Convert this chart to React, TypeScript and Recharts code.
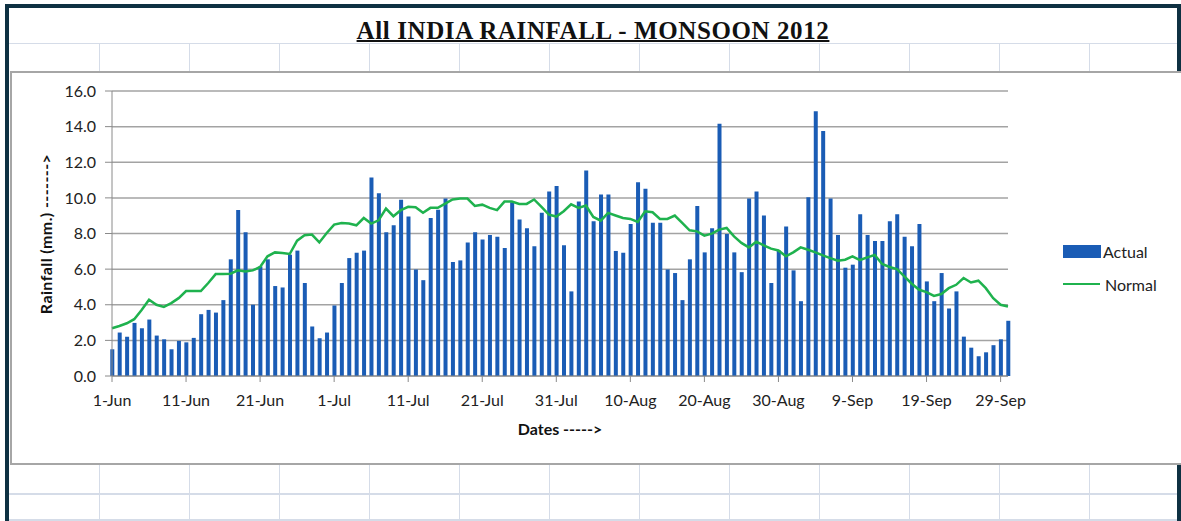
import { ComposedChart, Bar, Line, XAxis, YAxis, CartesianGrid, Legend, Label } from 'recharts';

// daily rainfall, 1-Jun .. 30-Sep 2012 (mm)
const actual = [
  1.5, 2.44, 2.2, 2.98, 2.68, 3.17, 2.27, 2.06, 1.5, 1.97,
  1.89, 2.14, 3.47, 3.71, 3.56, 4.26, 6.55, 9.32, 8.07, 4.0,
  6.15, 6.55, 5.05, 4.97, 6.81, 7.04, 5.22, 2.78, 2.12, 2.44,
  3.96, 5.22, 6.62, 6.92, 7.04, 11.14, 10.26, 8.07, 8.46, 9.89,
  8.95, 5.98, 5.38, 8.87, 9.34, 9.96, 6.4, 6.49, 7.5, 8.07,
  7.67, 7.92, 7.82, 7.19, 9.76, 8.78, 8.29, 7.28, 9.17, 10.36,
  10.66, 7.34, 4.75, 9.79, 11.54, 8.69, 10.19, 10.19, 7.02, 6.92,
  8.54, 10.88, 10.51, 8.61, 8.61, 5.98, 5.78, 4.26, 6.55, 9.55,
  6.94, 8.29, 14.16, 7.97, 6.94, 5.83, 9.96, 10.36, 9.01, 5.22,
  7.05, 8.39, 5.93, 4.2, 10.04, 14.86, 13.75, 9.96, 7.92, 6.08,
  6.25, 9.08, 7.92, 7.58, 7.58, 8.69, 9.08, 7.82, 7.28, 8.54,
  5.31, 4.2, 5.78, 3.79, 4.75, 2.21, 1.59, 1.11, 1.33, 1.73,
  2.06, 3.1,
];

const normal = [
  2.68, 2.81, 2.96, 3.19, 3.71, 4.28, 4.0, 3.88, 4.09, 4.37,
  4.77, 4.77, 4.77, 5.22, 5.72, 5.72, 5.74, 5.93, 5.87, 5.93,
  6.12, 6.72, 6.94, 6.9, 6.85, 7.6, 7.9, 7.94, 7.5, 8.03,
  8.5, 8.59, 8.56, 8.46, 8.87, 8.56, 8.74, 9.4, 8.97, 9.31,
  9.5, 9.47, 9.16, 9.44, 9.44, 9.68, 9.91, 9.96, 9.96, 9.55,
  9.62, 9.44, 9.31, 9.79, 9.79, 9.66, 9.66, 9.91, 9.49, 9.06,
  8.95, 9.25, 9.64, 9.44, 9.57, 8.93, 8.72, 9.16, 9.01, 8.87,
  8.82, 8.65, 9.25, 9.19, 8.82, 8.82, 9.01, 8.59, 8.18, 8.12,
  7.88, 7.99, 8.22, 8.31, 7.84, 7.47, 7.22, 7.54, 7.34, 7.15,
  7.05, 6.72, 6.94, 7.22, 7.09, 6.94, 6.77, 6.62, 6.47, 6.53,
  6.72, 6.51, 6.66, 6.79, 6.29, 6.12, 6.0, 5.59, 5.18, 4.84,
  4.71, 4.5, 4.6, 4.93, 5.12, 5.5, 5.25, 5.35, 4.93, 4.37,
  4.0, 3.9,
];

const tickDays = [0, 10, 20, 30, 40, 50, 60, 70, 80, 90, 100, 110, 120];
const tickLabels = ['1-Jun', '11-Jun', '21-Jun', '1-Jul', '11-Jul', '21-Jul', '31-Jul', '10-Aug', '20-Aug', '30-Aug', '9-Sep', '19-Sep', '29-Sep'];
const yTicks = [0, 2, 4, 6, 8, 10, 12, 14, 16];

const data = actual.map((v, i) => ({ day: i, actual: v, normal: normal[i] }));

const BLUE = '#1a5cb5';
const GREEN = '#1fb24e';
const FONT = 'Lato, sans-serif';
const SHEET = '#d5dce8';

const cols = [99, 189, 279, 369, 459, 549, 639, 729, 819, 909, 999, 1089];

const LegendBox = () => (
  <div style={{ fontFamily: FONT, fontSize: 16, color: '#222' }}>
    <div style={{ display: 'flex', alignItems: 'center', height: 30, marginBottom: 3 }}>
      <span style={{ width: 38, height: 13, background: BLUE, marginRight: 2 }} />
      <span>Actual</span>
    </div>
    <div style={{ display: 'flex', alignItems: 'center', height: 30 }}>
      <span style={{ width: 37, height: 2.5, background: GREEN, marginRight: 5 }} />
      <span>Normal</span>
    </div>
  </div>
);

export default function App() {
  return (
    <div style={{ position: 'absolute', left: 0, top: 0, width: 1181, height: 521, background: '#fff', overflow: 'hidden' }}>
      {/* spreadsheet cells behind the chart */}
      <div style={{ position: 'absolute', left: 9, top: 43, width: 1168, height: 1, background: SHEET }} />
      <div style={{ position: 'absolute', left: 9, top: 493, width: 1168, height: 2, background: SHEET }} />
      <div style={{ position: 'absolute', left: 9, top: 519, width: 1168, height: 2, background: SHEET }} />
      {cols.map((x) => (
        <div key={'t' + x} style={{ position: 'absolute', left: x, top: 43, width: 1, height: 29, background: SHEET }} />
      ))}
      {cols.map((x) => (
        <div key={'b' + x} style={{ position: 'absolute', left: x, top: 463, width: 1, height: 58, background: SHEET }} />
      ))}

      {/* dark frame */}
      <div style={{ position: 'absolute', left: 5, top: 4, width: 1168, height: 530, border: '4px solid #0e3142' }} />

      {/* title */}
      <div style={{
        position: 'absolute', left: 5, top: 16, width: 1176, textAlign: 'center',
        fontFamily: '"Liberation Serif", serif', fontWeight: 'bold', fontSize: 25, lineHeight: '30px',
        letterSpacing: 0.6, textDecoration: 'underline', textDecorationThickness: 2, color: '#111',
      }}>
        All INDIA RAINFALL - MONSOON 2012
      </div>

      {/* chart box */}
      <div style={{ position: 'absolute', left: 10, top: 71, width: 1170, height: 390, border: '2px solid #a6a6a6', background: '#fff' }} />

      <div style={{ position: 'absolute', left: 0, top: 0 }}>
        <ComposedChart width={1181} height={521} data={data} margin={{ top: 91, right: 173, bottom: 115, left: 0 }}>
          <CartesianGrid vertical={false} stroke="#a3a3a3" strokeWidth={1.5} />
          <XAxis
            dataKey="day"
            type="number"
            domain={[0, 121]}
            ticks={tickDays}
            tickFormatter={(v: number) => tickLabels[tickDays.indexOf(v)]}
            height={30}
            interval={0}
            stroke="#8a8a8a"
            tickSize={6}
            tickMargin={13}
            tick={{ fill: '#222', fontFamily: FONT, fontSize: 16 }}
          >
            <Label
              content={({ viewBox }: any) => (
                <text x={viewBox.x + viewBox.width / 2} y={435} textAnchor="middle" fontFamily={FONT} fontSize={16} fontWeight="bold" fill="#111">
                  {'Dates ----->'}
                </text>
              )}
            />
          </XAxis>
          <YAxis
            domain={[0, 16]}
            ticks={yTicks}
            width={112}
            interval={0}
            stroke="#8a8a8a"
            tickSize={7}
            tickMargin={9}
            tickFormatter={(v: number) => v.toFixed(1)}
            tick={{ fill: '#222', fontFamily: FONT, fontSize: 16 }}
          >
            <Label
              content={() => (
                <text x={52} y={234} transform="rotate(-90 52 234)" textAnchor="middle" fontFamily={FONT} fontSize={16} fontWeight="bold" fill="#111" letterSpacing={0.4}>
                  {'Rainfall  (mm.) ------->'}
                </text>
              )}
            />
          </YAxis>
          <Legend
            layout="vertical"
            align="center"
            verticalAlign="middle"
            wrapperStyle={{ left: 1063, top: 236, width: 110 }}
            content={() => <LegendBox />}
          />
          <Bar dataKey="actual" name="Actual" fill={BLUE} barSize={4} isAnimationActive={false} />
          <Line dataKey="normal" name="Normal" type="linear" stroke={GREEN} strokeWidth={2.5} dot={false} isAnimationActive={false} />
        </ComposedChart>
      </div>
    </div>
  );
}
